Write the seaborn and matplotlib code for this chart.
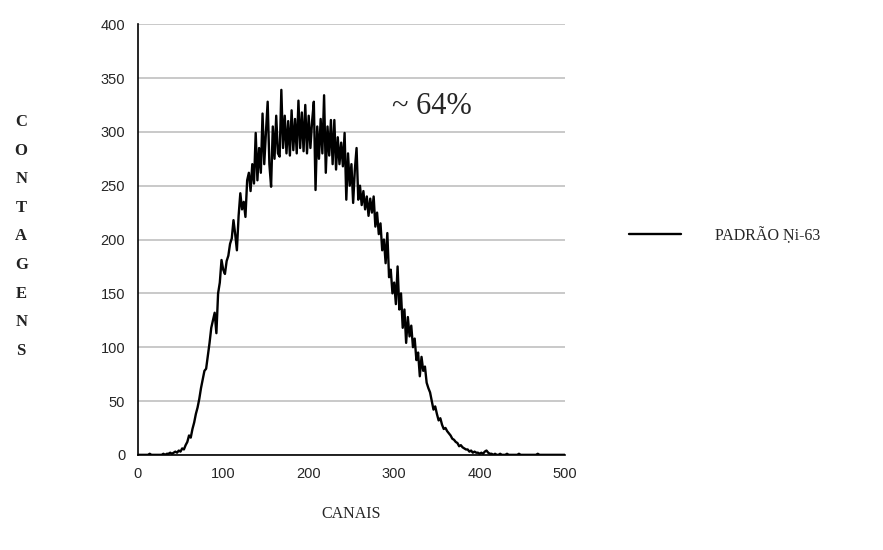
import numpy as np
import pandas as pd
import matplotlib
matplotlib.use("Agg")
import matplotlib.pyplot as plt
import seaborn as sns

# channels every 2 (0..500), counts
canais = list(range(0, 501, 2))
contagens = [
    0, 0, 0, 0, 0, 0, 0, 1, 0, 0,
    0, 0, 0, 0, 0, 1, 0, 1, 1, 2,
    1, 2, 3, 2, 4, 3, 6, 5, 9, 12,
    18, 16, 24, 30, 38, 44, 52, 62, 70, 78,
    80, 92, 104, 118, 125, 132, 113, 150, 160, 181,
    172, 168, 180, 185, 196, 201, 218, 205, 190, 222,
    243, 228, 235, 221, 255, 262, 245, 270, 252, 299,
    255, 285, 262, 317, 270, 300, 328, 270, 249, 305,
    275, 315, 280, 277, 339, 285, 315, 280, 310, 278,
    320, 283, 312, 280, 329, 285, 318, 282, 325, 280,
    315, 285, 310, 328, 246, 305, 275, 312, 280, 334,
    262, 305, 278, 311, 270, 311, 265, 295, 270, 290,
    268, 299, 237, 280, 250, 270, 234, 265, 285, 237,
    250, 232, 245, 228, 240, 222, 238, 225, 240, 212,
    225, 205, 215, 190, 200, 178, 206, 165, 172, 150,
    160, 140, 175, 135, 150, 118, 135, 104, 128, 110,
    120, 100, 108, 88, 95, 73, 91, 78, 82, 67,
    62, 58, 50, 42, 45, 38, 32, 34, 28, 24,
    25, 22, 20, 18, 15, 14, 12, 11, 8, 9,
    7, 6, 5, 5, 3, 4, 2, 3, 2, 2,
    1, 2, 1, 3, 4, 2, 1, 1, 0, 1,
    0, 0, 1, 0, 0, 0, 1, 0, 0, 0,
    0, 0, 0, 1, 0, 0, 0, 0, 0, 0,
    0, 0, 0, 0, 1, 0, 0, 0, 0, 0,
    0, 0, 0, 0, 0, 0, 0, 0, 0, 0,
    0,
]
y_ticks = [0, 50, 100, 150, 200, 250, 300, 350, 400]
x_ticks = [0, 100, 200, 300, 400, 500]
serie = "PADRÃO Ṇi-63"

df = pd.DataFrame({"canal": canais, "contagem": contagens})

sns.set_style("white")
plt.rcParams["font.family"] = ["Liberation Sans", "DejaVu Sans"]
serif = ["Liberation Serif", "DejaVu Serif"]

fig = plt.figure(figsize=(8.83, 5.5), dpi=100)
ax = fig.add_axes([0.156, 0.173, 0.484, 0.783])

sns.lineplot(data=df, x="canal", y="contagem", color="black",
             linewidth=1.7, label=serie, ax=ax)

ax.set_xlim(0, 500)
ax.set_ylim(0, 400)
ax.set_xticks(x_ticks)
ax.set_yticks(y_ticks)
ax.yaxis.grid(True, color="#c0c0c0", linewidth=1.2)
ax.set_axisbelow(True)
for s in ["top", "right"]:
    ax.spines[s].set_visible(False)
for s in ["left", "bottom"]:
    ax.spines[s].set_color("black")
    ax.spines[s].set_linewidth(1.2)
ax.tick_params(axis="both", direction="out", length=5, width=1,
               color="black", labelsize=10.5, pad=4)
ax.set_xlabel("")
ax.set_ylabel("")

ax.text(297, 324, "~ 64%", family=serif, fontsize=22, va="center")

fig.text(0.398, 0.065, "CANAIS", family=serif, fontsize=11.5,
         ha="center", va="center")
fig.text(0.024, 0.57, "\n".join("CONTAGENS"), family=serif, fontsize=12,
         fontweight="bold", ha="center", va="center", linespacing=2.05,
         color="#222222")

leg = ax.legend(loc="center left", bbox_to_anchor=(0.712, 0.572),
                bbox_transform=fig.transFigure, frameon=False,
                handlelength=3.3, handletextpad=2.1, borderpad=0,
                borderaxespad=0, prop={"family": serif, "size": 11.5})

fig.savefig("out.png", dpi=100)
